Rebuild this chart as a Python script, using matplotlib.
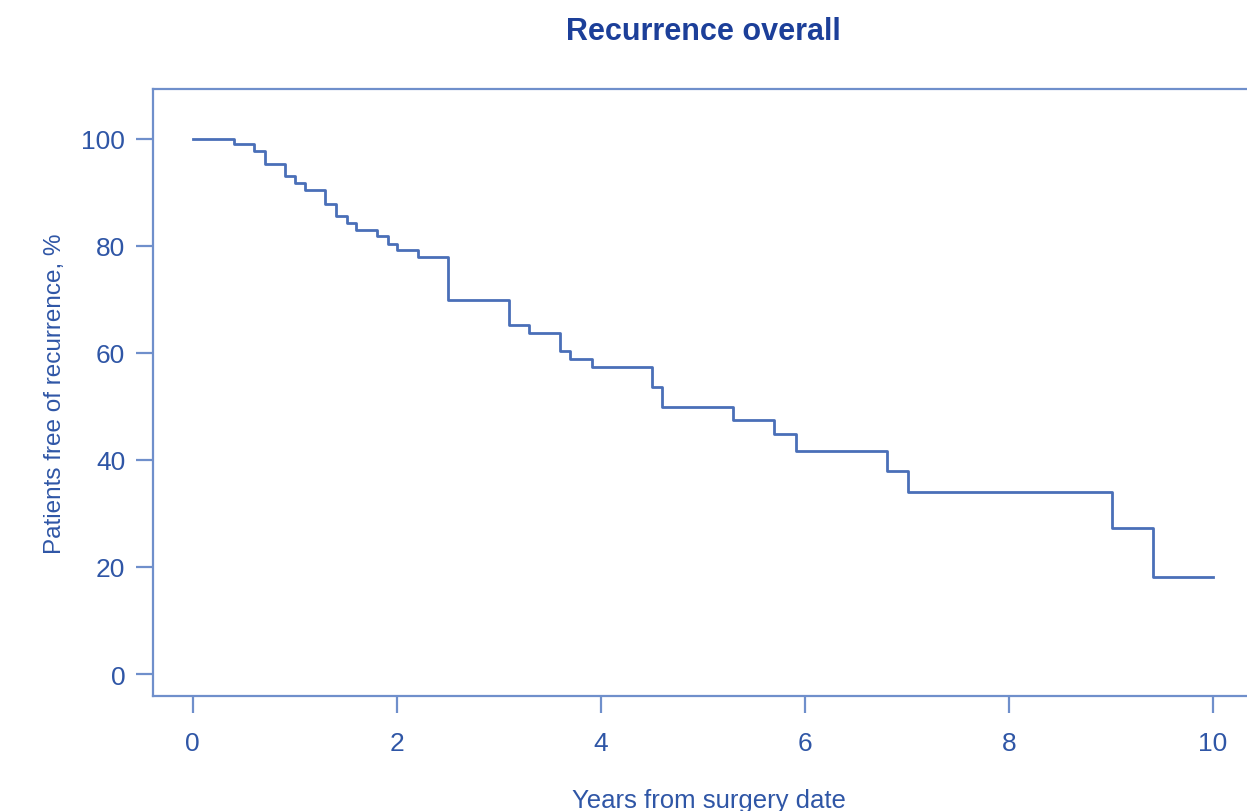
import matplotlib

matplotlib.use('Agg')
import matplotlib.pyplot as plt

plt.rcParams['font.family'] = ['Liberation Sans', 'DejaVu Sans']

# Kaplan-Meier style step data
years = [0.0, 0.40, 0.60, 0.71, 0.90, 1.00, 1.10, 1.30, 1.40, 1.51, 1.60, 1.81, 1.91, 2.00,
         2.21, 2.50, 3.10, 3.30, 3.60, 3.70, 3.91, 4.50, 4.60, 5.30, 5.70, 5.91, 6.80, 7.01,
         9.01, 9.41, 10.0]
free_pct = [100.0, 99.0, 97.7, 95.2, 93.0, 91.7, 90.5, 87.9, 85.5, 84.3, 83.0, 81.8, 80.4, 79.2,
            77.9, 69.8, 65.2, 63.7, 60.4, 58.9, 57.3, 53.7, 49.8, 47.5, 44.9, 41.6, 37.9, 34.1,
            27.3, 18.2, 18.2]
x_ticks = [0, 2, 4, 6, 8, 10]
y_ticks = [0, 20, 40, 60, 80, 100]

line_col = '#4a6fb8'
text_col = '#2f56a6'
title_col = '#1c3f99'
spine_col = '#6f8fcb'

fig = plt.figure(figsize=(12.47, 8.12), dpi=100)
ax = fig.add_axes([153 / 1247, 115 / 812, (1265 - 153) / 1247, (697 - 90) / 812])

ax.step(years, free_pct, where='post', color=line_col, lw=2.0)

ax.set_xlim(-0.39, 10.51)
ax.set_ylim(-4.1, 109.3)
ax.set_xticks(x_ticks)
ax.set_yticks(y_ticks)

for side in ['left', 'top', 'bottom', 'right']:
    ax.spines[side].set_color(spine_col)
    ax.spines[side].set_linewidth(1.6)

ax.tick_params(axis='both', colors=spine_col, labelcolor=text_col, length=12, width=1.6,
               labelsize=19)
ax.tick_params(axis='x', pad=13)
ax.tick_params(axis='y', pad=8)

ax.set_xlabel('Years from surgery date', fontsize=18.5, color=text_col, labelpad=24)
ax.set_ylabel('Patients free of recurrence, %', fontsize=17.5, color=text_col, labelpad=11)

fig.text(703 / 1247, 1 - 32 / 812, 'Recurrence overall', ha='center', va='center',
         fontsize=22, fontweight='bold', color=title_col)

plt.savefig('out.png', dpi=100)
plt.close(fig)
